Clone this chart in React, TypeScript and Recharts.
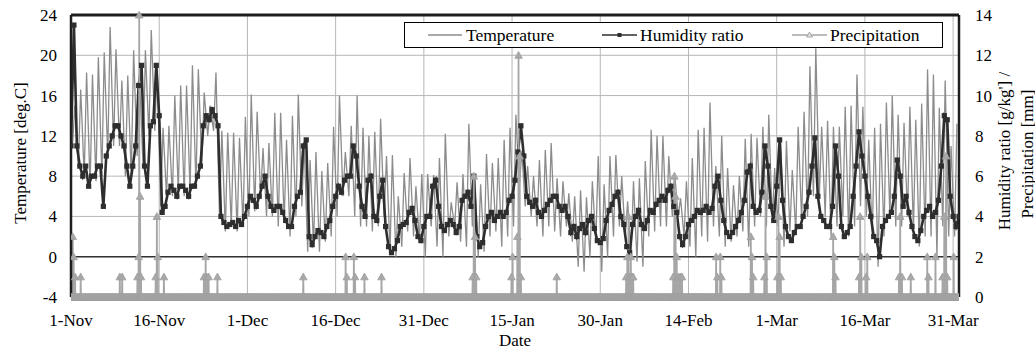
import { CartesianGrid, Line, LineChart, ReferenceLine, XAxis, YAxis } from 'recharts';

// x positions are days since 1-Nov
const dayTicks = [0, 15, 30, 45, 60, 75, 90, 105, 120, 135, 150];
const tickLabels = ['1-Nov', '16-Nov', '1-Dec', '16-Dec', '31-Dec', '15-Jan', '30-Jan', '14-Feb', '1-Mar', '16-Mar', '31-Mar'];
const tempTicks = [-4, 0, 4, 8, 12, 16, 20, 24];
const rightTicks = [0, 2, 4, 6, 8, 10, 12, 14];

// daily temperature maxima / minima [deg.C], one per day
const tempMax = [
  15, 16.6, 18.3, 18.1, 19.8, 20.3, 22.8, 20.6, 17.5, 18,
  20.5, 18, 20.5, 22.5, 19, 12.8, 13, 16, 17, 17,
  19, 18.6, 16.3, 15, 18.3, 12.5, 12.3, 12.3, 11.8, 13.9,
  16.1, 14.4, 10.8, 11.3, 14.3, 14.3, 11.6, 14, 16.1, 11.4,
  9.6, 10.4, 8.5, 9.3, 12.9, 16, 10.4, 13, 16, 12.8,
  12, 12.4, 13.7, 10, 10.1, 6, 8.3, 9.8, 7, 8.2,
  8.2, 8.1, 9.8, 12.2, 5.4, 7.4, 8.2, 13.2, 8.2, 7.2,
  10.2, 9.3, 9.8, 11.6, 12.8, 14.1, 10.5, 9, 8, 9.6,
  10.6, 11.3, 7.8, 7.5, 6.3, 6, 6.6, 5.9, 7.5, 10,
  7.2, 10, 10.1, 8, 5.5, 7.5, 7.8, 9.5, 12.6, 12,
  12, 10, 8.3, 5.8, 7.5, 9.8, 12.6, 12.8, 15.3, 9,
  12, 8.8, 7.1, 8, 11.7, 12.2, 11.8, 12.9, 14.1, 8.8,
  11.7, 11.5, 8.6, 12.9, 14.4, 18.9, 20.7, 12.9, 13.5, 12.9,
  12.9, 14.9, 15, 18.1, 14.9, 11.6, 12.8, 13.2, 15.3, 16,
  14.1, 13.3, 14.9, 13.6, 15.2, 18.6, 18.1, 14.8, 17.5, 11,
  13.2,
];
const tempMin = [
  11, 9, 8, 7, 7.5, 8, 10, 11, 11, 8,
  8, 10, 9, 12, 12.5, 5, 6, 6, 6.5, 6,
  6.5, 7, 9, 12, 12.5, 4, 2.5, 3, 2.5, 3,
  4, 4.5, 6, 4, 4, 3, 3.5, 2, 4, 5,
  0.5, 1, 0.5, 1.5, 2, 4, 6, 6, 4, 3,
  3, 2.5, 3, 4, 0.5, 0, 1, 2.5, 2, 1.5,
  0, 3, 1, 0, 2, 3, 1.5, 1, 3, 0,
  0.5, 2, 2.5, 1, 2, 3, 7, 5, 4, 3,
  2, 3, 2.5, 2, 3, 1.5, -1, -1.5, 0, 1.5,
  -1.5, 0, 2, 3, 2, 0, -0.5, -1, 2, 2.5,
  3, 3, 4, 4, 2, 1, 0, 2, 1.5, 3,
  2, 1, 1.5, 2, 2.5, 1, 3, 4, 3, 3.5,
  3, 1, 2.5, 2.5, 3.5, 4, 6, 6, 4, 2,
  3, 4, 2, 3, 5, 4, 2, -1, 2, 4,
  3, 3, 4, 2.5, 1, 2, 2, 0, 3, 2,
  2,
];

// humidity ratio [g/kg'], every half day
const humidity = [
  7.5, 13.5, 7.5, 6.5, 6, 6.5, 5.5, 6, 6, 6.5, 6.5, 4.5, 7, 7.5, 8, 8.5, 8.5, 8, 7.5, 6.5,
  5.5, 6.5, 7.5, 10.5, 11.5, 6.5, 5.5, 8.5, 8.7, 11.5, 9, 4.2, 4.5, 5.2, 5.5, 5.3, 5, 5.5, 5.5, 5.3,
  5, 5.5, 5.5, 6, 6.5, 8.5, 9, 8.8, 9.3, 9, 8.5, 4, 3.7, 3.5, 3.6, 3.7, 3.5, 3.8, 3.6, 4,
  4.5, 5, 4.8, 4.5, 5, 5.5, 6, 5, 4.5, 4.3, 4.5, 4.5, 4.2, 3.8, 3.5, 3.5, 4.5, 5, 5.2, 7.5,
  7.8, 3, 2.6, 3, 3.3, 3.2, 3, 3.5, 3.8, 4.5, 5, 5.5, 5.2, 5.8, 6, 6, 7.5, 7, 5.5, 4.5,
  4, 5.8, 6, 4, 3.8, 5, 5.8, 3.5, 2.5, 2.2, 2.4, 2.8, 3.5, 3.6, 3.7, 4.2, 4.4, 3.8, 3, 2.8,
  3.5, 4, 4, 5.5, 5.8, 4.5, 3.5, 3.3, 3.6, 3.8, 3.6, 3.2, 3.5, 4.8, 5, 5.2, 4.5, 6, 3, 2.5,
  2.7, 3.5, 4, 4.2, 3.8, 4, 4.2, 4, 4.2, 4.8, 5, 5.8, 7.2, 8.5, 7, 5, 4.7, 4.5, 4.8, 4.2,
  4, 4.3, 4.6, 4.8, 5, 5, 4.5, 4.3, 4.5, 4, 3.2, 3.5, 3, 3.4, 3.6, 3.2, 3.8, 4, 3.4, 2.8,
  2.7, 2.9, 3.8, 4.3, 4.6, 5, 5.2, 4, 3.6, 2.5, 2.2, 3.6, 4, 4.3, 3.6, 3.4, 3.8, 4.3, 4.2, 4.6,
  4.8, 5, 4.8, 5.3, 5.5, 4.5, 4.2, 3, 2.6, 3, 3.6, 3.8, 4, 4.3, 4.2, 4.3, 4.5, 4.2, 4.4, 5.5,
  6, 4.8, 3.8, 3.2, 3, 3.2, 3.5, 3.8, 4.2, 4.8, 6.2, 6.5, 4.5, 4.2, 4.3, 5.2, 7.5, 6.5, 4.5, 3.8,
  5.5, 7.8, 4.8, 3.5, 3, 2.8, 3.2, 3.5, 3.5, 4, 4.5, 5.2, 6.5, 7.9, 5, 4, 3.8, 3.5, 3.5, 4.5,
  7.5, 6, 3.5, 3, 3.2, 3.5, 5, 6.5, 8.2, 7, 6, 5, 4, 3, 2.8, 2, 3.5, 3.8, 4, 4.2,
  5, 6.8, 6, 4.5, 5, 4.2, 3.5, 3, 2.8, 3.3, 4, 4.3, 4.5, 4, 4.2, 4.8, 6.5, 9, 8.8, 5,
  4, 3.5, 4,
];

// precipitation events [day, mm]; zero elsewhere
const precipEvents: [number, number][] = [
  [0.3, 3], [0.45, 2], [0.7, 1], [1.65, 1], [8.3, 1], [8.7, 1], [11.3, 1], [11.5, 2], [11.6, 14],
  [11.75, 5], [11.9, 1], [14.4, 1], [14.6, 4], [14.75, 2], [15.8, 1], [22.6, 1], [22.9, 2], [23.1, 1],
  [23.4, 1], [24.9, 1], [39.5, 1], [46.7, 2], [46.9, 1], [48.1, 2], [48.3, 1], [49.9, 1], [52.8, 1],
  [68.3, 1], [68.5, 6], [68.7, 3], [68.9, 1], [74.9, 1], [75.1, 2], [75.9, 3], [76.1, 12], [76.3, 7],
  [76.5, 1], [82.6, 1], [94.4, 1], [94.6, 2], [94.8, 4], [95.0, 1], [95.2, 2], [95.4, 1], [95.6, 1],
  [102.4, 1], [102.6, 6], [102.8, 5], [103.0, 2], [103.3, 1], [103.6, 1], [103.9, 1], [109.7, 2],
  [109.9, 1], [110.4, 2], [110.6, 1], [115.6, 3], [115.8, 2], [116.0, 1], [117.9, 1], [118.1, 5],
  [118.3, 2], [120.1, 1], [120.3, 4], [120.5, 3], [120.7, 1], [129.6, 3], [129.8, 2], [130.0, 1],
  [134.0, 1], [134.2, 4], [134.4, 2], [135.2, 1], [135.4, 2], [140.8, 1], [141.0, 4], [141.3, 1],
  [142.8, 1], [145.6, 2], [145.8, 1], [147.0, 2], [148.2, 1], [148.5, 4], [148.8, 7], [149.0, 1],
  [150.1, 2],
];

const tempData = tempMin.flatMap((lo, d) => [
  { day: d + 0.25, temp: lo },
  { day: d + 0.65, temp: tempMax[d] },
]);

const humidityData = humidity.map((h, i) => ({ day: i / 2, humidity: h }));

const precipData = (() => {
  const rows: { day: number; precip: number }[] = [];
  for (let k = 0; k <= 906; k++) {
    const day = k / 6;
    if (!precipEvents.some(([d]) => Math.abs(d - day) < 0.06)) rows.push({ day, precip: 0 });
  }
  precipEvents.forEach(([d, mm]) => {
    rows.push({ day: d - 1 / 24, precip: 0 }, { day: d, precip: mm }, { day: d + 1 / 24, precip: 0 });
  });
  return rows.sort((a, b) => a.day - b.day);
})();

const FONT = 'Liberation Serif';
const TEMP_COLOR = '#8c8c8c';
const HUM_COLOR = '#2e2e2e';
const PRECIP_COLOR = '#a6a6a6';
const FRAME = '#1e1e1e';

function HumidityDot(props: any) {
  const { cx, cy, index } = props;
  if (cx == null || cy == null) return <g key={`h-${index}`} />;
  return <rect key={`h-${index}`} x={cx - 2.6} y={cy - 2.6} width={5.2} height={5.2} fill={HUM_COLOR} />;
}

function PrecipDot(props: any) {
  const { cx, cy, index } = props;
  if (cx == null || cy == null) return <g key={`p-${index}`} />;
  return (
    <path
      key={`p-${index}`}
      d={`M${cx},${cy - 3.8}L${cx + 3.8},${cy + 3}L${cx - 3.8},${cy + 3}Z`}
      fill="#a8a8a8"
      stroke="#a0a0a0"
      strokeWidth={0.8}
    />
  );
}

function XTick({ x, y, payload }: any) {
  const i = dayTicks.indexOf(payload.value);
  return (
    <text x={x} y={y + 21} textAnchor="middle" fontSize={17} fontFamily={FONT} fill="#000">
      {tickLabels[i]}
    </text>
  );
}

function Legend() {
  return (
    <div style={{ position: 'absolute', left: 404, top: 22, width: 539, height: 26 }}>
      <svg width={539} height={26} style={{ display: 'block' }}>
        <rect x={0.5} y={0.5} width={538} height={25} fill="#fff" stroke="#000" strokeWidth={1} />
        <line x1={24} x2={58} y1={13} y2={13} stroke={TEMP_COLOR} strokeWidth={1.3} />
        <text x={62} y={18.5} fontSize={17.5} fontFamily={FONT}>Temperature</text>
        <line x1={198} x2={233} y1={13} y2={13} stroke={HUM_COLOR} strokeWidth={1.5} />
        <rect x={213.5} y={11} width={4} height={4} fill={HUM_COLOR} />
        <text x={236} y={18.5} fontSize={17.5} fontFamily={FONT}>Humidity ratio</text>
        <line x1={388} x2={423} y1={13} y2={13} stroke={PRECIP_COLOR} strokeWidth={1.3} />
        <path d="M405.5,10L408.5,15L402.5,15Z" fill="#ddd" stroke="#999" strokeWidth={0.8} />
        <text x={426} y={18.5} fontSize={17.5} fontFamily={FONT}>Precipitation</text>
      </svg>
    </div>
  );
}

export default function App() {
  return (
    <div style={{ position: 'absolute', left: 0, top: 0, width: 1035, height: 351, background: '#fff', fontFamily: FONT }}>
      <LineChart width={1035} height={351} margin={{ top: 15, right: 0, bottom: 0, left: 0 }}>
        <CartesianGrid yAxisId="left" stroke="#b6b6b6" strokeWidth={1} />
        <XAxis
          dataKey="day"
          type="number"
          domain={[0, 151]}
          ticks={dayTicks}
          interval={0}
          height={54}
          axisLine={false}
          tickLine={false}
          tick={<XTick />}
          allowDataOverflow
          label={() => (
            <text x={515} y={346} textAnchor="middle" fontSize={17} fontFamily={FONT} fill="#000">
              Date
            </text>
          )}
        />
        <YAxis
          yAxisId="left"
          domain={[-4, 24]}
          ticks={tempTicks}
          interval={0}
          width={71}
          axisLine={{ stroke: FRAME, strokeWidth: 2.5 }}
          tickLine={false}
          tickMargin={8}
          tick={{ fontSize: 17, fontFamily: FONT, fill: '#000' }}
          label={() => (
            <text
              x={20}
              y={153}
              transform="rotate(-90 20 153)"
              textAnchor="middle"
              dominantBaseline="central"
              fontSize={17}
              fontFamily={FONT}
              fill="#000"
            >
              Temperature [deg.C]
            </text>
          )}
        />
        <YAxis
          yAxisId="right"
          orientation="right"
          domain={[0, 14]}
          ticks={rightTicks}
          interval={0}
          width={76}
          axisLine={{ stroke: FRAME, strokeWidth: 2.5 }}
          tickLine={false}
          tickMargin={10}
          tick={{ fontSize: 17, fontFamily: FONT, fill: '#000', textAnchor: 'start' }}
          label={() => (
            <g fontSize={17} fontFamily={FONT} fill="#000">
              <text x={1004} y={151} transform="rotate(-90 1004 151)" textAnchor="middle" dominantBaseline="central">
                Humidity ratio [g/kg'] /
              </text>
              <text x={1027} y={154} transform="rotate(-90 1027 154)" textAnchor="middle" dominantBaseline="central">
                Precipitation [mm]
              </text>
            </g>
          )}
        />
        <ReferenceLine yAxisId="left" y={0} stroke="#333" strokeWidth={1.5} />
        <Line
          yAxisId="left"
          data={tempData}
          dataKey="temp"
          type="linear"
          stroke={TEMP_COLOR}
          strokeWidth={1.3}
          dot={false}
          isAnimationActive={false}
        />
        <Line
          yAxisId="right"
          data={humidityData}
          dataKey="humidity"
          type="linear"
          stroke={HUM_COLOR}
          strokeWidth={2.6}
          dot={HumidityDot}
          isAnimationActive={false}
        />
        <Line
          yAxisId="right"
          data={precipData}
          dataKey="precip"
          type="linear"
          stroke={PRECIP_COLOR}
          strokeWidth={1.8}
          dot={PrecipDot}
          isAnimationActive={false}
        />
        <ReferenceLine yAxisId="left" y={24} stroke={FRAME} strokeWidth={3} />
      </LineChart>
      <Legend />
    </div>
  );
}
